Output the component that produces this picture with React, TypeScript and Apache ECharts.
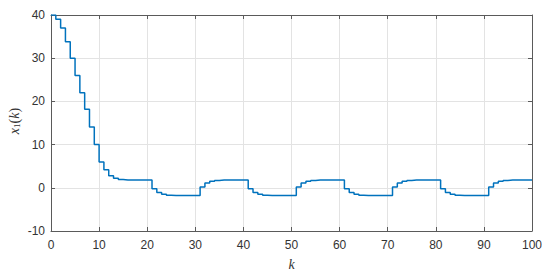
import React, { useEffect, useRef } from "react";
import * as echarts from "echarts";

const kSteps: number[] = [
  0, 1, 2, 3, 4, 5, 6, 7, 8, 9, 10, 11, 12, 13, 14, 15, 16, 17, 18, 19, 20,
  21, 22, 23, 24, 25, 26, 27, 28, 29, 30, 31, 32, 33, 34, 35, 36, 37, 38, 39, 40,
  41, 42, 43, 44, 45, 46, 47, 48, 49, 50, 51, 52, 53, 54, 55, 56, 57, 58, 59, 60,
  61, 62, 63, 64, 65, 66, 67, 68, 69, 70, 71, 72, 73, 74, 75, 76, 77, 78, 79, 80,
  81, 82, 83, 84, 85, 86, 87, 88, 89, 90, 91, 92, 93, 94, 95, 96, 97, 98, 99, 100,
];

const x1Values: number[] = [
  40, 39, 37, 33.8, 30, 26, 22, 18.2, 14.1, 10, 6, 4.2, 2.8, 2.2, 1.9, 1.8, 1.8, 1.8, 1.8, 1.8, 1.8,
  -0.2, -1.1, -1.5, -1.7, -1.8, -1.8, -1.8, -1.8, -1.8, -1.8,
  0.2, 1.1, 1.5, 1.7, 1.8, 1.8, 1.8, 1.8, 1.8, 1.8,
  -0.2, -1.1, -1.5, -1.7, -1.8, -1.8, -1.8, -1.8, -1.8, -1.8,
  0.2, 1.1, 1.5, 1.7, 1.8, 1.8, 1.8, 1.8, 1.8, 1.8,
  -0.2, -1.1, -1.5, -1.7, -1.8, -1.8, -1.8, -1.8, -1.8, -1.8,
  0.2, 1.1, 1.5, 1.7, 1.8, 1.8, 1.8, 1.8, 1.8, 1.8,
  -0.2, -1.1, -1.5, -1.7, -1.8, -1.8, -1.8, -1.8, -1.8, -1.8,
  0.2, 1.1, 1.5, 1.7, 1.8, 1.8, 1.8, 1.8, 1.8, 1.8,
];

const xTicks = { min: 0, max: 100, interval: 10 };
const yTicks = { min: -10, max: 40, interval: 10 };

const AXIS_COLOR = "#5a5a5a";
const LABEL_COLOR = "#333333";
const GRID_COLOR = "#e3e3e3";
const FONT = "Liberation Sans";

export default function App() {
  const ref = useRef<HTMLDivElement>(null);
  useEffect(() => {
    if (!ref.current) return;
    const chart = echarts.init(ref.current, null, { renderer: "svg" });
    const data = kSteps.map((k, i) => [k, x1Values[i]]);
    const axisCommon = {
      axisLine: { show: true, onZero: false, lineStyle: { color: AXIS_COLOR, width: 1 } },
      axisTick: { show: true, inside: true, length: 4, lineStyle: { color: AXIS_COLOR } },
    };
    chart.setOption({
      animation: false,
      backgroundColor: "#ffffff",
      grid: {
        left: 51,
        right: 18,
        top: 15,
        bottom: 47,
        containLabel: false,
        outerBoundsMode: "none",
      },
      graphic: [
        {
          type: "text",
          x: 14,
          y: 121,
          rotation: Math.PI / 2,
          style: {
            text: "{i|x}{s|1}{n|(}{i|k}{n|)}",
            align: "center",
            verticalAlign: "middle",
            fill: LABEL_COLOR,
            rich: {
              i: { fontFamily: "Liberation Serif", fontStyle: "italic", fontSize: 14, lineHeight: 16, fill: LABEL_COLOR },
              s: { fontFamily: "Liberation Serif", fontSize: 9, lineHeight: 16, fill: LABEL_COLOR, padding: [5, 0, 0, 0] },
              n: { fontFamily: "Liberation Serif", fontSize: 14, lineHeight: 16, fill: LABEL_COLOR },
            },
          },
        },
      ],
      xAxis: [
        {
          type: "value",
          ...xTicks,
          ...axisCommon,
          position: "bottom",
          axisLabel: { color: LABEL_COLOR, fontSize: 12, fontFamily: FONT, margin: 8 },
          splitLine: { show: true, lineStyle: { color: GRID_COLOR, width: 1 } },
          name: "k",
          nameLocation: "middle",
          nameGap: 26,
          nameTextStyle: {
            fontFamily: "Liberation Serif",
            fontStyle: "italic",
            fontSize: 14,
            color: LABEL_COLOR,
          },
        },
        {
          type: "value",
          ...xTicks,
          ...axisCommon,
          position: "top",
          axisLabel: { show: false },
          splitLine: { show: false },
        },
      ],
      yAxis: [
        {
          type: "value",
          ...yTicks,
          ...axisCommon,
          position: "left",
          axisLabel: { color: LABEL_COLOR, fontSize: 12, fontFamily: FONT, margin: 6 },
          splitLine: { show: true, lineStyle: { color: GRID_COLOR, width: 1 } },
        },
        {
          type: "value",
          ...yTicks,
          ...axisCommon,
          position: "right",
          axisLabel: { show: false },
          splitLine: { show: false },
        },
      ],
      series: [
        {
          type: "line",
          data,
          step: "end",
          showSymbol: false,
          symbol: "none",
          lineStyle: { color: "#0072BD", width: 1.5 },
          itemStyle: { color: "#0072BD" },
          clip: true,
        },
      ],
    });
    return () => chart.dispose();
  }, []);
  return <div ref={ref} style={{ width: 550, height: 278, margin: -8 }} />;
}
